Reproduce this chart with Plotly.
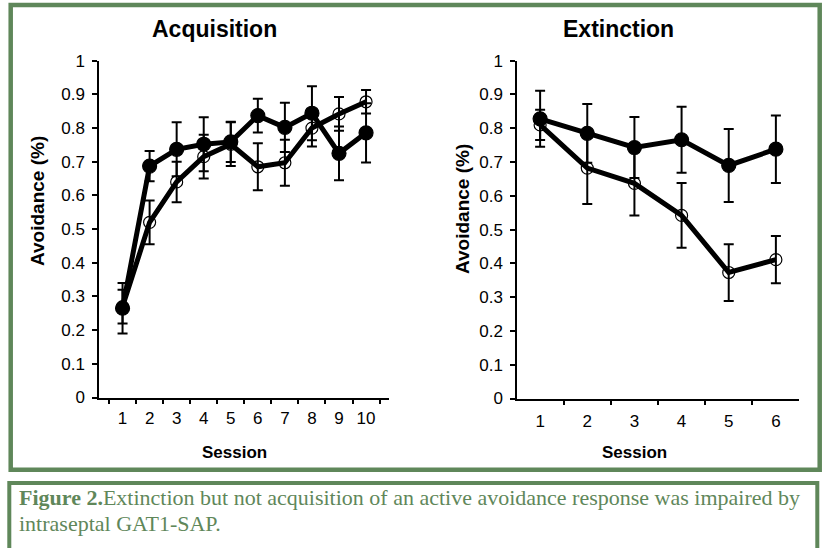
import plotly.graph_objects as go

# ---------------- data ----------------
acq_sessions = ["1", "2", "3", "4", "5", "6", "7", "8", "9", "10"]
acq_open = [0.27, 0.52, 0.64, 0.715, 0.752, 0.685, 0.697, 0.80, 0.842, 0.878]
acq_open_err = [0.05, 0.065, 0.06, 0.065, 0.065, 0.07, 0.068, 0.055, 0.05, 0.035]
acq_filled = [0.265, 0.687, 0.737, 0.752, 0.759, 0.837, 0.802, 0.844, 0.725, 0.786]
acq_filled_err = [0.075, 0.045, 0.08, 0.08, 0.06, 0.05, 0.073, 0.08, 0.08, 0.088]

ext_sessions = ["1", "2", "3", "4", "5", "6"]
ext_open = [0.81, 0.682, 0.637, 0.542, 0.373, 0.411]
ext_open_err = [0.045, 0.106, 0.095, 0.096, 0.084, 0.07]
ext_filled = [0.828, 0.785, 0.743, 0.766, 0.69, 0.738]
ext_filled_err = [0.083, 0.087, 0.09, 0.098, 0.108, 0.1]

y_tickvals = [0, 0.1, 0.2, 0.3, 0.4, 0.5, 0.6, 0.7, 0.8, 0.9, 1]
y_ticktext = ["0", "0.1", "0.2", "0.3", "0.4", "0.5", "0.6", "0.7", "0.8", "0.9", "1"]

titles = ["Acquisition", "Extinction"]
y_title = "Avoidance (%)"
x_title = "Session"
caption_lines = [
    "<b>Figure 2.</b>Extinction but not acquisition of an active avoidance "
    "response was impaired by",
    "intraseptal GAT1-SAP.",
]

# ---------------- layout helpers ----------------
W, H = 824, 548
GREEN = "#5f875a"
SANS = "Liberation Sans, Arial, sans-serif"
SERIF = "Liberation Serif, Times New Roman, serif"


def px(x):
    return x / W


def py(y):
    return 1 - y / H


fig = go.Figure()


def add_series(xs, ys, errs, filled, xaxis, yaxis, name):
    fig.add_trace(go.Scatter(
        x=xs, y=ys, name=name, mode="lines+markers",
        xaxis=xaxis, yaxis=yaxis, showlegend=False,
        line=dict(color="black", width=5),
        marker=dict(
            symbol="circle" if filled else "circle-open",
            size=14 if filled else 12,
            color="black",
            line=dict(color="black", width=1.2),
        ),
        error_y=dict(type="data", array=errs, visible=True,
                     color="black", thickness=2, width=5),
    ))


add_series(acq_sessions, acq_open, acq_open_err, False, "x", "y", "Control")
add_series(acq_sessions, acq_filled, acq_filled_err, True, "x", "y", "GAT1-SAP")
add_series(ext_sessions, ext_open, ext_open_err, False, "x2", "y2", "Control")
add_series(ext_sessions, ext_filled, ext_filled_err, True, "x2", "y2", "GAT1-SAP")

tickfont = dict(family=SANS, size=17, color="black")

xcommon = dict(type="category", tickson="boundaries", ticks="outside",
               ticklen=5, tickwidth=1.5, tickcolor="black",
               showline=True, linecolor="black", linewidth=1.8,
               showgrid=False, zeroline=False, tickfont=tickfont,
               tickangle=0, automargin=False)
ycommon = dict(range=[0, 1], tickvals=y_tickvals, ticktext=y_ticktext,
               ticks="outside", ticklen=5, tickwidth=1.5, tickcolor="black",
               showline=True, linecolor="black", linewidth=1.8,
               showgrid=False, zeroline=False, tickfont=tickfont,
               automargin=False, ticklabelstandoff=4)

fig.update_layout(
    width=W, height=H, autosize=False,
    margin=dict(l=0, r=0, t=0, b=0, pad=0),
    paper_bgcolor="white", plot_bgcolor="white",
    xaxis=dict(domain=[px(99.3), px(389.3)], anchor="y", ticklabelstandoff=4, **xcommon),
    yaxis=dict(domain=[py(397.5), py(60.7)], anchor="x", **ycommon),
    xaxis2=dict(domain=[px(517.3), px(798.7)], anchor="y2", ticklabelstandoff=6, **xcommon),
    yaxis2=dict(domain=[py(398.5), py(60.7)], anchor="x2", **ycommon),
)

annots = [
    dict(text=f"<b>{titles[0]}</b>", x=px(214), y=py(29), font=dict(family=SANS, size=23, color="black")),
    dict(text=f"<b>{titles[1]}</b>", x=px(618), y=py(29), font=dict(family=SANS, size=23, color="black")),
    dict(text=f"<b>{y_title}</b>", x=px(37), y=py(201), textangle=-90, font=dict(family=SANS, size=19, color="black")),
    dict(text=f"<b>{y_title}</b>", x=px(462), y=py(209), textangle=-90, font=dict(family=SANS, size=19, color="black")),
    dict(text=f"<b>{x_title}</b>", x=px(234), y=py(452), font=dict(family=SANS, size=17, color="black")),
    dict(text=f"<b>{x_title}</b>", x=px(634.5), y=py(452), font=dict(family=SANS, size=17, color="black")),
]
for a in annots:
    fig.add_annotation(xref="paper", yref="paper", showarrow=False,
                       xanchor="center", yanchor="middle", **a)

for i, line in enumerate(caption_lines):
    fig.add_annotation(xref="paper", yref="paper", showarrow=False,
                       x=px(17), y=py(497 + 26 * i), xanchor="left", yanchor="middle",
                       align="left", text=line,
                       font=dict(family=SERIF, size=22, color=GREEN))

# borders
fig.add_shape(type="rect", xref="paper", yref="paper",
              x0=px(10.7), x1=px(819.7), y0=py(469.7), y1=py(5),
              line=dict(color=GREEN, width=4.5), layer="below")
fig.add_shape(type="rect", xref="paper", yref="paper",
              x0=px(9.3), x1=px(817.3), y0=py(560), y1=py(483),
              line=dict(color=GREEN, width=4), layer="below")

fig.write_html("out.html", config={"displayModeBar": False},
               post_script="document.body.style.margin='0';")
